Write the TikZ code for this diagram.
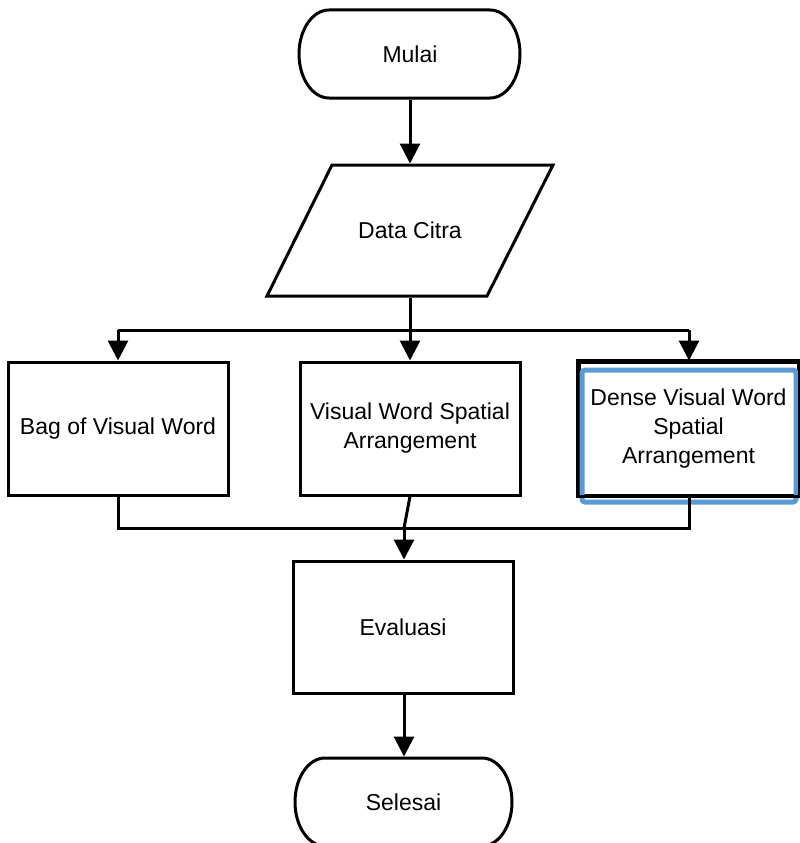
\documentclass[tikz,border=0pt]{standalone}
\usepackage{fontspec}
\setmainfont{Liberation Sans}
\usetikzlibrary{arrows.meta}
\definecolor{glowblue}{RGB}{91,155,213}
\begin{document}
\begin{tikzpicture}[x=1pt,y=1pt,
  line width=3pt,
  txt/.style={font=\fontsize{23}{29}\selectfont, align=center, inner sep=0pt},
  procbox/.style={txt, draw, fill=white, minimum width=220pt, minimum height=133pt},
  arr/.style={-{Triangle[length=20pt,width=20pt]}},
  ]
\useasboundingbox (0,0) rectangle (800,-843);
\clip (0,0) rectangle (800,-843);

% Mulai terminal
\draw[fill=white] (329,-10) -- (490,-10) arc[start angle=90, end angle=-90, x radius=30, y radius=44]
  -- (329,-98) arc[start angle=270, end angle=90, x radius=30, y radius=44] -- cycle;
\node[txt, minimum width=221pt, minimum height=88pt] (mulai) at (410,-54) {Mulai};

% Data Citra parallelogram
\draw[fill=white] (332,-165) -- (553,-165) -- (487,-296) -- (267,-296) -- cycle;
\node[txt, minimum width=150pt, minimum height=131pt] (data) at (410,-230.5) {Data Citra};

% process boxes
\node[procbox] (bow) at (118,-428.5) {Bag of Visual Word};
\node[procbox] (vwsa) at (410,-428.5) {Visual Word Spatial\\Arrangement};
\node[procbox, minimum width=219pt] (dvwsa) at (688.5,-428.5) {Dense Visual Word\\Spatial\\Arrangement};
\draw[glowblue, line width=5pt, rounded corners=3pt] (582,-370) rectangle (796,-502);
\draw (dvwsa.north west) rectangle (dvwsa.south east);

\node[procbox, minimum height=132pt] (eval) at (403,-627) {Evaluasi};

% Selesai terminal
\draw[fill=white] (325,-758) -- (482,-758) arc[start angle=90, end angle=-90, x radius=30, y radius=44]
  -- (325,-846) arc[start angle=270, end angle=90, x radius=30, y radius=44] -- cycle;
\node[txt, minimum width=217pt, minimum height=88pt] (selesai) at (403.5,-802) {Selesai};

% connectors
\coordinate (split) at (410,-330);
\coordinate (splitL) at (118,-330);
\coordinate (splitR) at (689,-330);
\coordinate (join) at (404,-528);
\coordinate (joinL) at (118,-528);
\coordinate (joinR) at (689,-528);

\draw[arr] (mulai.south) -- (data.north);
\draw (data.south) -- (split);
\draw (splitL) -- (splitR);
\draw[arr] (splitL) -- (bow.north);
\draw[arr] (split) -- (vwsa.north);
\draw[arr] (splitR) -- (dvwsa.north -| splitR);
\draw (bow.south) -- (joinL) -- (joinR) -- (dvwsa.south -| joinR);
\draw (vwsa.south) -- (join);
\draw[arr] (join) -- (eval.north -| join);
\draw[arr] (eval.south -| join) -- (selesai.north -| join);
\end{tikzpicture}
\end{document}
